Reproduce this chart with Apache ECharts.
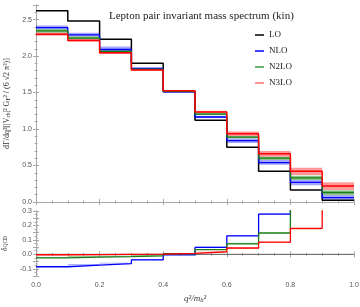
<!DOCTYPE html>
<html><head><meta charset="utf-8">
<script src="https://cdn.jsdelivr.net/npm/echarts@6/dist/echarts.min.js"></script>
<style>html,body{margin:0;padding:0;background:#fff}#c{width:360px;height:307px}</style>
</head><body><div id="c"></div>
<script>
// ---- data ----
const edges = [0, 0.1, 0.2, 0.3, 0.4, 0.5, 0.6, 0.7, 0.8, 0.9, 1.0];
const xTicks = ['0.0', '0.2', '0.4', '0.6', '0.8', '1.0'];
const topTicks = ['0.0', '0.5', '1.0', '1.5', '2.0', '2.5'];
const botTicks = ['-0.1', '0.0', '0.1', '0.2', '0.3'];

const LO = [2.62, 2.48, 2.23, 1.90, 1.515, 1.12, 0.75, 0.42, 0.165, 0.025];
const NLO = [2.39, 2.29, 2.09, 1.83, 1.51, 1.165, 0.84, 0.54, 0.27, 0.06];
const NLO_lo = [2.37, 2.27, 2.07, 1.82, 1.50, 1.15, 0.81, 0.51, 0.23, 0.03];
const NLO_hi = [2.42, 2.32, 2.13, 1.845, 1.52, 1.18, 0.87, 0.575, 0.30, 0.095];
const N2LO = [2.345, 2.245, 2.065, 1.82, 1.515, 1.205, 0.89, 0.60, 0.33, 0.13];
const N2LO_lo = [2.32, 2.23, 2.05, 1.81, 1.51, 1.19, 0.875, 0.575, 0.30, 0.095];
const N2LO_hi = [2.37, 2.27, 2.08, 1.83, 1.525, 1.22, 0.905, 0.62, 0.36, 0.16];
const N3LO = [2.30, 2.215, 2.045, 1.81, 1.525, 1.235, 0.935, 0.66, 0.42, 0.22];
const N3LO_lo = [2.28, 2.20, 2.03, 1.80, 1.515, 1.22, 0.905, 0.62, 0.37, 0.165];
const N3LO_hi = [2.32, 2.235, 2.06, 1.815, 1.53, 1.25, 0.965, 0.70, 0.47, 0.27];

const dNLO = [-0.086, -0.075, -0.064, -0.038, -0.004, 0.048, 0.128, 0.278, 0.6, 2.0];
const dNLO_hi = [-0.080, -0.069, -0.058, -0.033, 0.000, 0.053, 0.133, 0.283, 0.65, 2.1];
const dN2LO = [-0.024, -0.020, -0.016, -0.010, 0.004, 0.032, 0.073, 0.147, 0.8, 1.0];
const dN2LO_hi = [-0.018, -0.014, -0.010, -0.005, 0.008, 0.036, 0.080, 0.155, 0.85, 1.1];
const dN3LO = [-0.003, -0.002, 0.000, 0.002, 0.007, 0.018, 0.044, 0.085, 0.180, 0.6];
const dN3LO_lo = [-0.007, -0.006, -0.004, -0.002, 0.004, 0.014, 0.039, 0.079, 0.172, 0.55];

// ---- helpers ----
function stepData(vals) {
  return edges.map((x, i) => [x, vals[Math.min(i, vals.length - 1)]]);
}
function bandData(lo, hi) {
  return lo.map((v, i) => [edges[i], edges[i + 1], v, hi[i]]);
}
function bandRender(params, api) {
  const p0 = api.coord([api.value(0), api.value(3)]);
  const p1 = api.coord([api.value(1), api.value(2)]);
  const r = echarts.graphic.clipRectByRect(
    { x: p0[0], y: p0[1], width: p1[0] - p0[0], height: p1[1] - p0[1] },
    { x: params.coordSys.x, y: params.coordSys.y, width: params.coordSys.width, height: params.coordSys.height });
  if (!r) return null;
  return { type: 'rect', shape: r, style: { fill: api.visual('color') } };
}
function band(name, lo, hi, color, xi, yi) {
  return { type: 'custom', name: name + '_band', xAxisIndex: xi, yAxisIndex: yi, renderItem: bandRender,
    itemStyle: { color: color }, data: bandData(lo, hi), silent: true, z: 1 };
}
function line(name, vals, color, xi, yi, w) {
  return { type: 'line', name: name, xAxisIndex: xi, yAxisIndex: yi, step: 'end', data: stepData(vals),
    showSymbol: false, symbol: 'none', lineStyle: { color: color, width: w || 1.5 }, itemStyle: { color: color },
    silent: true, z: 3, clip: true };
}
function pick(list, start, step) {
  return v => {
    const k = (v - start) / step;
    const r = Math.round(k);
    return Math.abs(k - r) < 1e-6 && r >= 0 && r < list.length ? list[r] : '';
  };
}

const frame = '#a8a8a8';
const lab = { color: '#555', fontSize: 7, fontFamily: 'Liberation Sans' };
function xAx(grid, pos, labels) {
  return { type: 'value', gridIndex: grid, position: pos, min: 0, max: 1, interval: 0.2,
    axisLine: { show: true, lineStyle: { color: frame } },
    axisTick: { show: true, inside: true, length: 3, lineStyle: { color: frame } },
    minorTick: { show: true, splitNumber: 4, length: 1.5, lineStyle: { color: frame } },
    splitLine: { show: false },
    axisLabel: labels ? Object.assign({ show: true, margin: 6, formatter: pick(xTicks, 0, 0.2) }, lab) : { show: false } };
}
function yAx(grid, pos, min, max, interval, minorN, fmt, extra) {
  return Object.assign({ type: 'value', gridIndex: grid, position: pos, min: min, max: max, interval: interval,
    axisLine: { show: true, lineStyle: { color: frame } },
    axisTick: { show: true, inside: true, length: 3, lineStyle: { color: frame } },
    minorTick: { show: true, splitNumber: minorN, length: 1.5, lineStyle: { color: frame } },
    splitLine: { show: false },
    axisLabel: fmt ? Object.assign({ show: true, margin: 4, formatter: fmt, showMaxLabel: true, showMinLabel: true }, lab) : { show: false } }, extra || {});
}

const chart = echarts.init(document.getElementById('c'), null, { renderer: 'canvas' });
chart.setOption({
  animation: false,
  backgroundColor: '#fff',
  title: { text: 'Lepton pair invariant mass spectrum (kin)', left: 104, top: 6,
    textStyle: { fontFamily: 'Liberation Serif', fontSize: 11, fontWeight: 'normal', color: '#222' } },
  legend: { orient: 'vertical', left: 250, top: 25, itemWidth: 9, itemHeight: 1.5, itemGap: 6,
    icon: 'rect',
    textStyle: { fontFamily: 'Liberation Serif', fontSize: 9, color: '#222', lineHeight: 10 },
    data: [
      { name: 'LO', itemStyle: { color: '#000' } },
      { name: 'NLO', itemStyle: { color: '#0000ff' } },
      { name: 'N2LO', itemStyle: { color: '#3a9a3a' } },
      { name: 'N3LO', itemStyle: { color: '#ff7070' } }
    ] },
  grid: [
    { left: 36, right: 6, top: 5, height: 197, containLabel: false, outerBoundsMode: 'none' },
    { left: 36, right: 6, top: 211, height: 65, containLabel: false, outerBoundsMode: 'none' }
  ],
  xAxis: [xAx(0, 'bottom', false), xAx(0, 'top', false), Object.assign(xAx(1, 'bottom', true), {
      name: '{i|q²/m}{s|b}{i|²}', nameLocation: 'middle', nameGap: 17,
      nameTextStyle: { rich: { i: { fontFamily: 'Liberation Serif', fontStyle: 'italic', fontSize: 9, color: '#333' },
        s: { fontFamily: 'Liberation Serif', fontStyle: 'italic', fontSize: 6.5, color: '#333', verticalAlign: 'bottom', padding: [4, 0, 0, 0] } } } }),
    xAx(1, 'top', false)],
  yAxis: [
    yAx(0, 'left', 0, 2.7, 0.5, 5, pick(topTicks, 0, 0.5), {
      name: '{a|dΓ/dq²[|V}{s|cb}{a||² G}{s|F}{a|² / (6 √2 π³)]}', nameLocation: 'middle', nameGap: 19, nameRotate: 90,
      nameTextStyle: { rich: { a: { fontFamily: 'Liberation Serif', fontSize: 8, color: '#333' },
        s: { fontFamily: 'Liberation Serif', fontSize: 5.5, color: '#333', verticalAlign: 'bottom', padding: [3, 0, 0, 0] } } } }),
    yAx(0, 'right', 0, 2.7, 0.5, 5, null),
    yAx(1, 'left', -0.15, 0.3, 0.05, 5, pick(botTicks, -0.1, 0.1), {
      name: '{a|δ}{s|QCD}', nameLocation: 'middle', nameGap: 19, nameRotate: 90,
      nameTextStyle: { rich: { a: { fontFamily: 'Liberation Serif', fontSize: 7.5, color: '#333' },
        s: { fontFamily: 'Liberation Serif', fontSize: 5.5, color: '#333', verticalAlign: 'bottom', padding: [3, 0, 0, 0] } } } }),
    yAx(1, 'right', -0.15, 0.3, 0.05, 2, null)
  ],
  series: [
    band('NLO', NLO_lo, NLO_hi, 'rgba(0,0,255,0.35)', 0, 0),
    band('N2LO', N2LO_lo, N2LO_hi, 'rgba(0,130,0,0.45)', 0, 0),
    band('N3LO', N3LO_lo, N3LO_hi, 'rgba(255,0,0,0.4)', 0, 0),
    line('LO', LO, '#000', 0, 0, 1.5),
    line('NLO', NLO, '#0000ff', 0, 0, 1.3),
    line('N2LO', N2LO, '#1a7a1a', 0, 0, 1.3),
    line('N3LO', N3LO, '#ff0000', 0, 0, 1.5),
    { type: 'line', name: 'zero', xAxisIndex: 2, yAxisIndex: 2, data: [[0, 0], [1, 0]], showSymbol: false, symbol: 'none',
      lineStyle: { color: '#666', width: 1 }, silent: true, z: 2 },
    band('dNLO', dNLO, dNLO_hi, 'rgba(0,0,255,0.4)', 2, 2),
    band('dN2LO', dN2LO, dN2LO_hi, 'rgba(0,140,0,0.5)', 2, 2),
    band('dN3LO', dN3LO_lo, dN3LO, 'rgba(255,0,0,0.4)', 2, 2),
    line('dNLO', dNLO, '#0000ff', 2, 2, 1.3),
    line('dN2LO', dN2LO, '#1a7a1a', 2, 2, 1.3),
    line('dN3LO', dN3LO, '#ff0000', 2, 2, 1.3)
  ]
});
</script></body></html>
